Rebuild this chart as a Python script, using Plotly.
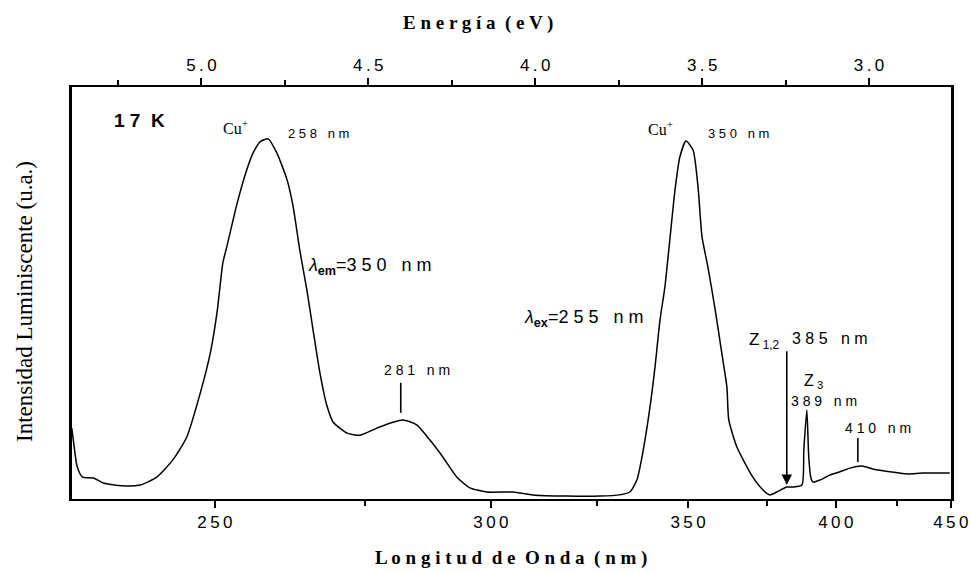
import plotly.graph_objects as go

HC = 1239.84  # eV*nm

# ---- data ----
wavelength_nm = [230.1, 230.3, 230.8, 231.5, 232.9, 234.2, 236.8, 239.2, 241.5, 243.8,
                 245.8, 247.8, 249.3, 250.3, 251.2, 251.8, 253.4, 254.9, 255.9, 257.0,
                 258.3, 259.7, 261.4, 262.4, 263.5, 264.7, 265.7, 266.9, 268.1, 269.2,
                 271.7, 274.0, 277.1, 279.5, 282.0, 284.7, 287.3, 289.9, 292.8, 295.5,
                 299.1, 304.9, 309.4, 317.5, 325.7, 330.9, 333.6, 335.5, 337.1, 339.1,
                 340.5, 341.9, 343.3, 344.7, 346.2, 347.6, 349.4, 351.5, 353.0, 354.2,
                 356.0, 358.1, 360.3, 361.9, 362.5, 365.1, 367.7, 370.3, 373.7, 376.0,
                 378.4, 381.9, 384.1, 387.3, 388.0, 389.1, 389.8, 390.6, 391.3, 393.9,
                 397.7, 401.6, 405.5, 410.3, 414.8, 422.0, 429.5, 436.7, 449.5]
intensity = [0.172, 0.143, 0.078, 0.053, 0.051, 0.039, 0.032, 0.034, 0.053, 0.095,
             0.150, 0.257, 0.354, 0.451, 0.573, 0.612, 0.718, 0.799, 0.840, 0.867,
             0.874, 0.840, 0.774, 0.709, 0.604, 0.507, 0.415, 0.308, 0.228, 0.187,
             0.160, 0.155, 0.172, 0.184, 0.192, 0.180, 0.143, 0.102, 0.053, 0.027,
             0.017, 0.017, 0.010, 0.007, 0.007, 0.010, 0.017, 0.046, 0.112, 0.223,
             0.320, 0.434, 0.515, 0.629, 0.750, 0.830, 0.869, 0.847, 0.757, 0.636,
             0.563, 0.466, 0.354, 0.272, 0.192, 0.126, 0.087, 0.053, 0.022, 0.010,
             0.017, 0.029, 0.029, 0.034, 0.119, 0.216, 0.102, 0.051, 0.041, 0.046,
             0.058, 0.066, 0.075, 0.080, 0.073, 0.066, 0.061, 0.063, 0.063]

bottom_tick_nm = [250, 300, 350, 400, 450]
bottom_tick_text = ["2\u20095\u20090", "3\u20090\u20090", "3\u20095\u20090", "4\u20090\u20090", "4\u20095\u20090"]
bottom_minor_nm = [275, 325, 375, 425]
top_tick_ev = [5.0, 4.5, 4.0, 3.5, 3.0]
top_tick_text = ["5\u2009.\u20090", "4\u2009.\u20095", "4\u2009.\u20090", "3\u2009.\u20095", "3\u2009.\u20090"]
top_minor_ev = [5.25, 4.75, 4.25, 3.75, 3.25]
x_range_nm = [230.13, 450.1]

# marker positions (nm, intensity from, intensity to)
marker_281 = (281.6, 0.209, 0.282)
marker_410 = (408.7, 0.090, 0.148)
arrow_385 = (381.9, 0.034, 0.362)

energy = [HC / w for w in wavelength_nm]
x_range = [HC / x_range_nm[0], HC / x_range_nm[1]]

# plot area in pixels: x 72..951, y 87..499
L, R, T, B = 72, 951, 87, 499


def P(px, py):
    return (px - L) / (R - L), (B - py) / (B - T)


fig = go.Figure()
fig.add_trace(go.Scatter(x=energy, y=intensity, mode="lines",
                         line=dict(color="black", width=1.5, shape="spline", smoothing=0.6),
                         hoverinfo="skip", showlegend=False))
fig.add_trace(go.Scatter(x=energy, y=intensity, mode="lines", xaxis="x2",
                         line=dict(color="rgba(0,0,0,0)", width=0), hoverinfo="skip",
                         showlegend=False))

tickfont = dict(family="Liberation Sans, Arial", size=17, color="black")

fig.update_layout(
    width=970, height=572,
    margin=dict(l=L, r=970 - R, t=T, b=572 - B, pad=0, autoexpand=False),
    paper_bgcolor="white", plot_bgcolor="white",
    xaxis=dict(range=x_range, tickmode="array", automargin=False,
               tickvals=[HC / w for w in bottom_tick_nm], ticktext=bottom_tick_text,
               ticks="outside", ticklen=7, tickwidth=2, tickcolor="black",
               minor=dict(tickmode="array", tickvals=[HC / w for w in bottom_minor_nm],
                          ticks="outside", ticklen=5, tickwidth=2, tickcolor="black"),
               showline=True, linewidth=2, linecolor="black", showgrid=False,
               zeroline=False, tickfont=tickfont),
    xaxis2=dict(range=x_range, overlaying="x", side="top", tickmode="array",
                automargin=False,
                tickvals=top_tick_ev, ticktext=top_tick_text,
                ticks="outside", ticklen=7, tickwidth=2, tickcolor="black",
                minor=dict(tickmode="array", tickvals=top_minor_ev,
                           ticks="outside", ticklen=5, tickwidth=2, tickcolor="black"),
                showline=True, linewidth=2, linecolor="black", showgrid=False,
                zeroline=False, tickfont=tickfont),
    yaxis=dict(range=[0, 1], showticklabels=False, ticks="", showline=True,
               automargin=False,
               linewidth=2.5, linecolor="black", mirror=True, showgrid=False,
               zeroline=False),
)

serif = "Liberation Serif, Times New Roman"
sans = "Liberation Sans, Arial"
ann = []


def text(px, py, s, size, family=sans, xanchor="left", angle=0):
    x, y = P(px, py)
    ann.append(dict(x=x, y=y, xref="paper", yref="paper", text=s, showarrow=False,
                    xanchor=xanchor, yanchor="middle", textangle=angle,
                    font=dict(family=family, size=size, color="black")))


# axis titles
text(478, 23, "<b>E n e r g í a  ( e V )</b>", 19, serif, "center")
text(511, 558, "<b>L o n g i t u d  d e  O n d a  ( n m )</b>", 19, serif, "center")
text(24, 302, "Intensidad Luminiscente (u.a.)", 23, serif, "center", -90)

# labels
text(112, 121, "<b>1 7  K</b>", 19)
text(221, 127, "Cu<sup>+</sup>", 16, serif)
text(286, 134, "2 5 8   n m", 13)
text(306, 266, "<i>λ</i><sub><b>em</b></sub>=3 5 0   n m", 18)
text(382, 370, "2 8 1   n m", 14)
text(522, 318, "<i>λ</i><sub><b>ex</b></sub>=2 5 5   n m", 18)
text(646, 128, "Cu<sup>+</sup>", 16, serif)
text(706, 134, "3 5 0   n m", 13)
text(747, 341, "Z<sub> 1,2</sub>", 17)
text(790, 338, "3 8 5   n m", 16)
text(802, 381, "Z<sub> 3</sub>", 16)
text(789, 401, "3 8 9   n m", 14)
text(843, 428, "4 1 0   n m", 14)

# arrow for 385 nm
ann.append(dict(x=HC / arrow_385[0], y=arrow_385[1], xref="x", yref="y",
                ax=HC / arrow_385[0], ay=arrow_385[2], axref="x", ayref="y",
                showarrow=True, arrowhead=2, arrowsize=1.3, arrowwidth=1.6,
                arrowcolor="black", text=""))
fig.update_layout(annotations=ann)

for m in (marker_281, marker_410):
    fig.add_shape(type="line", xref="x", yref="y", x0=HC / m[0], x1=HC / m[0],
                  y0=m[1], y1=m[2], line=dict(color="black", width=1.6))

fig.write_html("out.html", config={"displayModeBar": False},
               post_script="document.body.style.margin='0';document.body.style.overflow='hidden';")
